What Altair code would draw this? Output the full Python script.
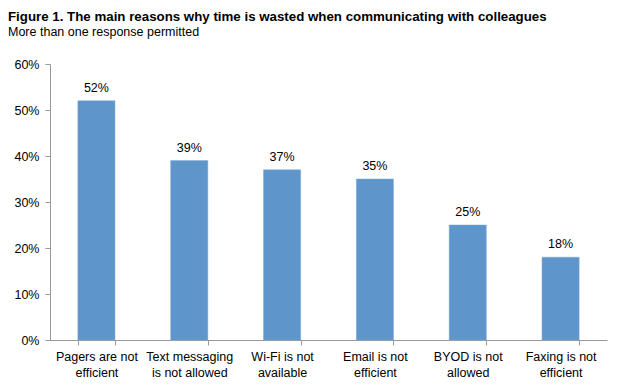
import altair as alt
import pandas as pd

categories = ["Pagers are not|efficient", "Text messaging|is not allowed", "Wi-Fi is not|available",
              "Email is not|efficient", "BYOD is not|allowed", "Faxing is not|efficient"]
values = [0.52, 0.39, 0.37, 0.35, 0.25, 0.18]
labels = ["52%", "39%", "37%", "35%", "25%", "18%"]

df = pd.DataFrame({"cat": categories, "val": values, "lab": labels})

FONT = "Liberation Sans"

base = alt.Chart(df)

bars = base.mark_bar(color="#5E95CB", stroke="#7FA9D6", strokeWidth=0.5).encode(
    x=alt.X("cat:N", sort=None, title=None,
            scale=alt.Scale(paddingInner=0.6, paddingOuter=0.3),
            axis=alt.Axis(labelAngle=0,
                          labelExpr="datum.value ? split(datum.value, '|') : ''",
                          labelFont=FONT, labelFontSize=12.5, labelColor="#000",
                          labelPadding=5, labelLineHeight=16,
                          tickBand="extent", tickSize=5, tickColor="#999",
                          domainColor="#999", labelLimit=200)),
    y=alt.Y("val:Q", title=None,
            scale=alt.Scale(domain=[0, 0.6], nice=False),
            axis=alt.Axis(format=".0%", values=[0, 0.1, 0.2, 0.3, 0.4, 0.5, 0.6],
                          grid=False, labelFont=FONT, labelFontSize=12.5,
                          labelColor="#000", tickSize=5, tickColor="#999",
                          domainColor="#999", labelPadding=6)),
)

text = base.mark_text(font=FONT, fontSize=12.5, color="#000", dy=-13).encode(
    x=alt.X("cat:N", sort=None),
    y="val:Q",
    text="lab:N",
)

chart = (bars + text).properties(
    width=557, height=276,
    autosize=alt.AutoSizeParams(type="none"),
    padding={"left": 42, "top": 56, "right": 16, "bottom": 40},
    title=alt.TitleParams(
        "Figure 1. The main reasons why time is wasted when communicating with colleagues",
        subtitle="More than one response permitted",
        anchor="start", frame="group", dx=-42, offset=20,
        font=FONT, fontSize=13.3, fontWeight="bold", color="#000",
        subtitleFont=FONT, subtitleFontSize=12.5, subtitleColor="#000", subtitlePadding=2,
    ),
).configure_view(stroke=None)

chart.save("out.html", embed_options={"renderer": "svg", "actions": False})
